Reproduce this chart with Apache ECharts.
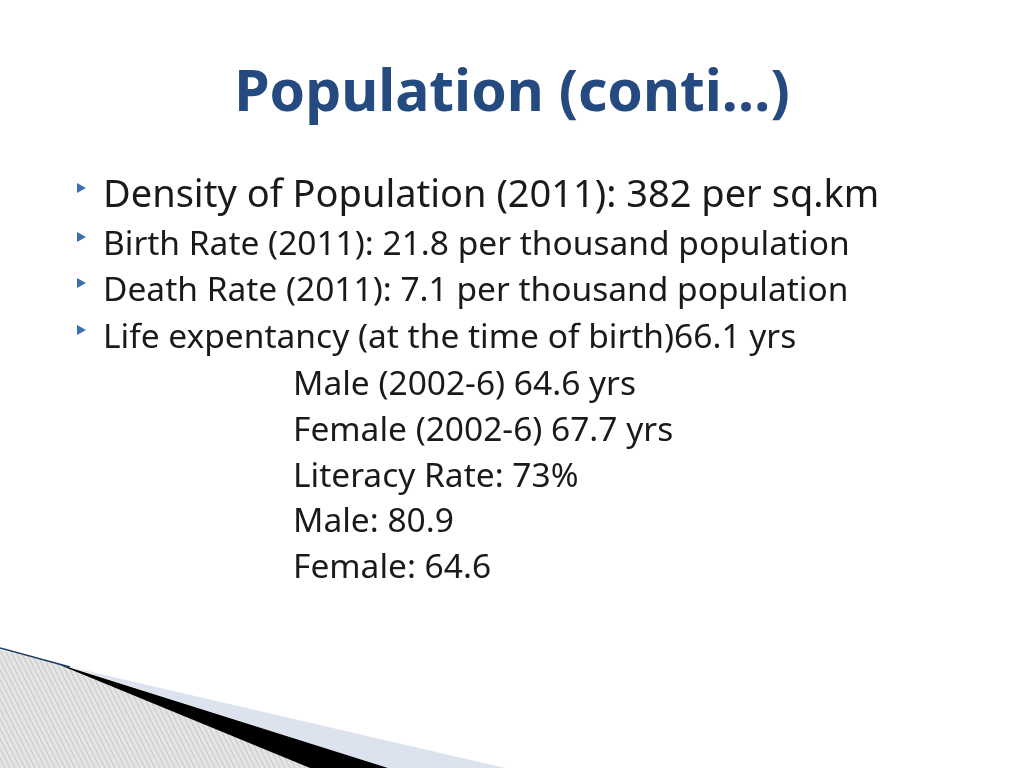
<!DOCTYPE html>
<html><head><meta charset="utf-8">
<script src="https://cdn.jsdelivr.net/npm/echarts@6/dist/echarts.min.js"></script>
<style>html,body{margin:0;padding:0;background:#fff}#c{width:1024px;height:768px}</style>
</head><body><div id="c"></div>
<script>
const titleText = 'Population (conti…)';
const bulletLines = [
  'Density of Population (2011): 382 per sq.km',
  'Birth Rate (2011): 21.8 per thousand population',
  'Death Rate (2011): 7.1 per thousand population',
  'Life expentancy (at the time of birth)66.1 yrs'
];
const indentLines = [
  'Male (2002-6) 64.6 yrs',
  'Female (2002-6) 67.7 yrs',
  'Literacy Rate: 73%',
  'Male: 80.9',
  'Female: 64.6'
];
const font = '"Noto Sans", "Open Sans", sans-serif';
const g = [];
// decoration
g.push({type:'polygon', shape:{points:[[0,650],[60,664],[310,768],[0,768]]}, style:{fill:'#e4e4e4'}});
for (let x = -150; x < 320; x += 5) {
  g.push({type:'line', shape:{x1:x, y1:650, x2:x+60, y2:768}, style:{stroke:'#b8b8b8', lineWidth:0.7}});
}
g.push({type:'polygon', shape:{points:[[0,649],[60,664],[310,768],[1024,768],[1024,600],[0,600]]}, style:{fill:'#fff'}});
g.push({type:'polygon', shape:{points:[[70,667],[505,768],[388,768]]}, style:{fill:'#dce3ef'}});
g.push({type:'polygon', shape:{points:[[55,663],[388,768],[310,768]]}, style:{fill:'#000'}});
g.push({type:'line', shape:{x1:0,y1:648,x2:70,y2:667}, style:{stroke:'#1f3c64', lineWidth:1.5}});
// title
g.push({type:'text', left:'center', top:66, style:{text:titleText, font:'bold 57px '+font, fill:'#254a7f'}});
const ys = [196, 245, 291, 338];
bulletLines.forEach((t,i)=>{
  const size = i===0 ? 38 : 33.5;
  g.push({type:'polygon', shape:{points:[[77,ys[i]-13],[86,ys[i]-8],[77,ys[i]-3]]}, style:{fill:'#3c6eb4'}});
  g.push({type:'text', x:103, y:ys[i], style:{text:t, font:size+'px '+font, fill:'#1a1a1a', textVerticalAlign:'middle'}});
});
const ys2 = [385, 431, 477, 522, 568];
indentLines.forEach((t,i)=>{
  g.push({type:'text', x:293, y:ys2[i], style:{text:t, font:'33.5px '+font, fill:'#1a1a1a', textVerticalAlign:'middle'}});
});
const chart = echarts.init(document.getElementById('c'));
chart.setOption({animation:false, backgroundColor:'#fff', graphic:g});
</script></body></html>
